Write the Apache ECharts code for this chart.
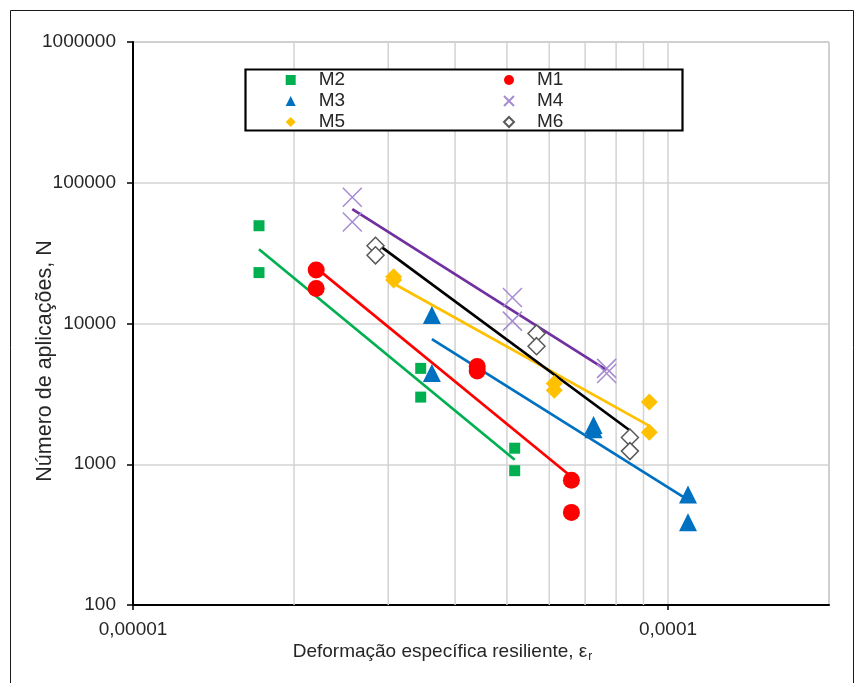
<!DOCTYPE html>
<html><head><meta charset="utf-8">
<script src="https://cdn.jsdelivr.net/npm/echarts@6/dist/echarts.min.js"></script>
<style>html,body{margin:0;padding:0;background:#fff}#c{width:865px;height:683px}</style>
</head><body><div id="c"></div>
<script>
// ---- data ----
const m2X = [1.72e-5, 1.72e-5, 3.45e-5, 3.45e-5, 5.17e-5, 5.17e-5];
const m2Y = [49500, 23000, 4800, 3000, 1300, 900];
const m1X = [2.20e-5, 2.20e-5, 4.40e-5, 4.40e-5, 6.60e-5, 6.60e-5];
const m1Y = [24000, 17700, 4950, 4600, 770, 455];
const m3X = [3.62e-5, 3.62e-5, 7.26e-5, 7.26e-5, 1.09e-4, 1.09e-4];
const m3Y = [11500, 4450, 1900, 1770, 610, 387];
const m4X = [2.57e-5, 2.57e-5, 5.12e-5, 5.12e-5, 7.68e-5, 7.68e-5];
const m4Y = [79000, 52600, 15300, 10400, 4800, 4420];
const m5X = [3.07e-5, 3.07e-5, 6.13e-5, 6.13e-5, 9.23e-5, 9.23e-5];
const m5Y = [21500, 20400, 3750, 3350, 2770, 1690];
const m6X = [2.84e-5, 2.84e-5, 5.68e-5, 5.68e-5, 8.49e-5, 8.49e-5];
const m6Y = [35700, 30500, 8500, 6900, 1550, 1240];

const xTickValues = [0.00001, 0.0001];
const xTickLabels = ['0,00001', '0,0001'];
const xMinorGrid = [2e-5, 3e-5, 4e-5, 5e-5, 6e-5, 7e-5, 8e-5, 9e-5];
const yRange = [100, 1000000];
const legendCol1 = ['M2', 'M3', 'M5'];
const legendCol2 = ['M1', 'M4', 'M6'];

const FONT = '"Liberation Sans", Arial, sans-serif';
const TXT = '#262626';
const GRIDC = '#d3d3d3';

function zip(xs, ys) { return xs.map((x, i) => [x, ys[i]]); }
// Power-law trend line (least squares in log-log space), like a spreadsheet trendline
function powerFit(xs, ys) {
  const lx = xs.map(Math.log10), ly = ys.map(Math.log10);
  const n = lx.length;
  const mx = lx.reduce((a, b) => a + b, 0) / n, my = ly.reduce((a, b) => a + b, 0) / n;
  let sxy = 0, sxx = 0;
  for (let i = 0; i < n; i++) { sxy += (lx[i] - mx) * (ly[i] - my); sxx += (lx[i] - mx) ** 2; }
  const b = sxy / sxx, a = my - b * mx;
  const x0 = Math.min(...xs), x1 = Math.max(...xs);
  return [[x0, Math.pow(10, a + b * Math.log10(x0))], [x1, Math.pow(10, a + b * Math.log10(x1))]];
}

const defs = [
  { name: 'M2', xs: m2X, ys: m2Y, symbol: 'rect', size: 11, item: { color: '#00b050' }, line: '#00b050' },
  { name: 'M1', xs: m1X, ys: m1Y, symbol: 'circle', size: 17, item: { color: '#ff0000' }, line: '#ff0000' },
  { name: 'M3', xs: m3X, ys: m3Y, symbol: 'triangle', size: 18, item: { color: '#0070c0' }, line: '#0070c0' },
  { name: 'M4', xs: m4X, ys: m4Y, symbol: 'path://M0,0L10,10M10,0L0,10', size: 19, item: { color: 'rgba(0,0,0,0)', borderColor: '#a68bd2', borderWidth: 1.5 }, line: '#7030a0' },
  { name: 'M5', xs: m5X, ys: m5Y, symbol: 'diamond', size: 17, item: { color: '#ffc000' }, line: '#ffc000' },
  { name: 'M6', xs: m6X, ys: m6Y, symbol: 'diamond', size: 17, item: { color: '#ffffff', borderColor: '#595959', borderWidth: 1.5 }, line: '#000000' }
];

const series = [];
// minor vertical grid lines of the log x axis (2..9 x 1e-5)
xMinorGrid.forEach(v => {
  series.push({
    name: 'grade', type: 'line', data: [[v, yRange[0]], [v, yRange[1]]], showSymbol: false, symbol: 'none',
    lineStyle: { color: GRIDC, width: 1.5 }, z: 1, silent: true, emphasis: { disabled: true }
  });
});
defs.forEach(d => {
  series.push({
    name: d.name + ' tendência', type: 'line', data: powerFit(d.xs, d.ys), showSymbol: false, symbol: 'none',
    lineStyle: { color: d.line, width: 2.7 }, z: 2, silent: true
  });
});
defs.forEach(d => {
  series.push({
    name: d.name, type: 'scatter', data: zip(d.xs, d.ys), symbol: d.symbol, symbolSize: d.size,
    itemStyle: Object.assign({ opacity: 1 }, d.item), z: 3
  });
});

function legendOpt(data, left) {
  return {
    data: data, orient: 'vertical', left: left, top: 69.5, padding: 0, itemGap: 0,
    itemWidth: 10, itemHeight: 10, selectedMode: false, z: 60,
    textStyle: { fontFamily: FONT, fontSize: 19, color: TXT, lineHeight: 21, padding: [0, 0, 0, 18] }
  };
}

const chart = echarts.init(document.getElementById('c'), null, { renderer: 'canvas' });
chart.setOption({
  animation: false,
  backgroundColor: '#ffffff',
  textStyle: { fontFamily: FONT },
  grid: { left: 133, right: 36, top: 42, bottom: 78, show: true, borderColor: '#8c8c8c', borderWidth: 1, containLabel: false, outerBoundsMode: 'none' },
  legend: [legendOpt(legendCol1, 285.7), legendOpt(legendCol2, 503)],
  xAxis: {
    type: 'log', logBase: 10, min: 0.00001, max: 0.0002,
    axisLine: { show: true, lineStyle: { color: '#000', width: 2 } },
    axisTick: { show: true, length: 5, lineStyle: { color: '#000', width: 1.5 } },
    axisLabel: {
      fontFamily: FONT, fontSize: 19, color: TXT, margin: 15, showMaxLabel: false,
      formatter: v => {
        let best = -1, bd = Infinity;
        xTickValues.forEach((t, i) => { const dd = Math.abs(Math.log10(v) - Math.log10(t)); if (dd < bd) { bd = dd; best = i; } });
        return bd < 0.01 ? xTickLabels[best] : '';
      }
    },
    splitLine: { show: true, lineStyle: { color: GRIDC, width: 1.5 } },
    name: '{t|Deformação específica resiliente, ε}{s|r}',
    nameLocation: 'middle', nameGap: 36, nameMoveOverlap: false,
    nameTextStyle: {
      padding: [0, 77, 0, 0],
      rich: {
        t: { fontFamily: FONT, fontSize: 19, color: TXT },
        s: { fontFamily: FONT, fontSize: 12, color: TXT, padding: [10, 0, 0, 1] }
      }
    }
  },
  yAxis: {
    type: 'log', logBase: 10, min: yRange[0], max: yRange[1],
    axisLine: { show: true, lineStyle: { color: '#000', width: 2 } },
    axisTick: { show: true, length: 6, lineStyle: { color: '#000', width: 1.5 } },
    axisLabel: { fontFamily: FONT, fontSize: 19, color: TXT, margin: 17, formatter: v => String(Math.round(v)) },
    splitLine: { show: true, lineStyle: { color: GRIDC, width: 1.5 } },
    name: 'Número de aplicações, N', nameLocation: 'middle', nameGap: 77, nameRotate: 90, nameMoveOverlap: false,
    nameTextStyle: { fontFamily: FONT, fontSize: 21.5, color: TXT, padding: [0, 75, 0, 0] }
  },
  graphic: [
    { type: 'rect', z: -10, silent: true, shape: { x: 10.5, y: 10.5, width: 843, height: 720 }, style: { fill: 'none', stroke: '#1a1a1a', lineWidth: 1 } },
    { type: 'rect', z: 50, silent: true, shape: { x: 245.5, y: 69.5, width: 437, height: 61 }, style: { fill: '#ffffff', stroke: '#000000', lineWidth: 2.2 } }
  ],
  series: series
});
</script></body></html>
